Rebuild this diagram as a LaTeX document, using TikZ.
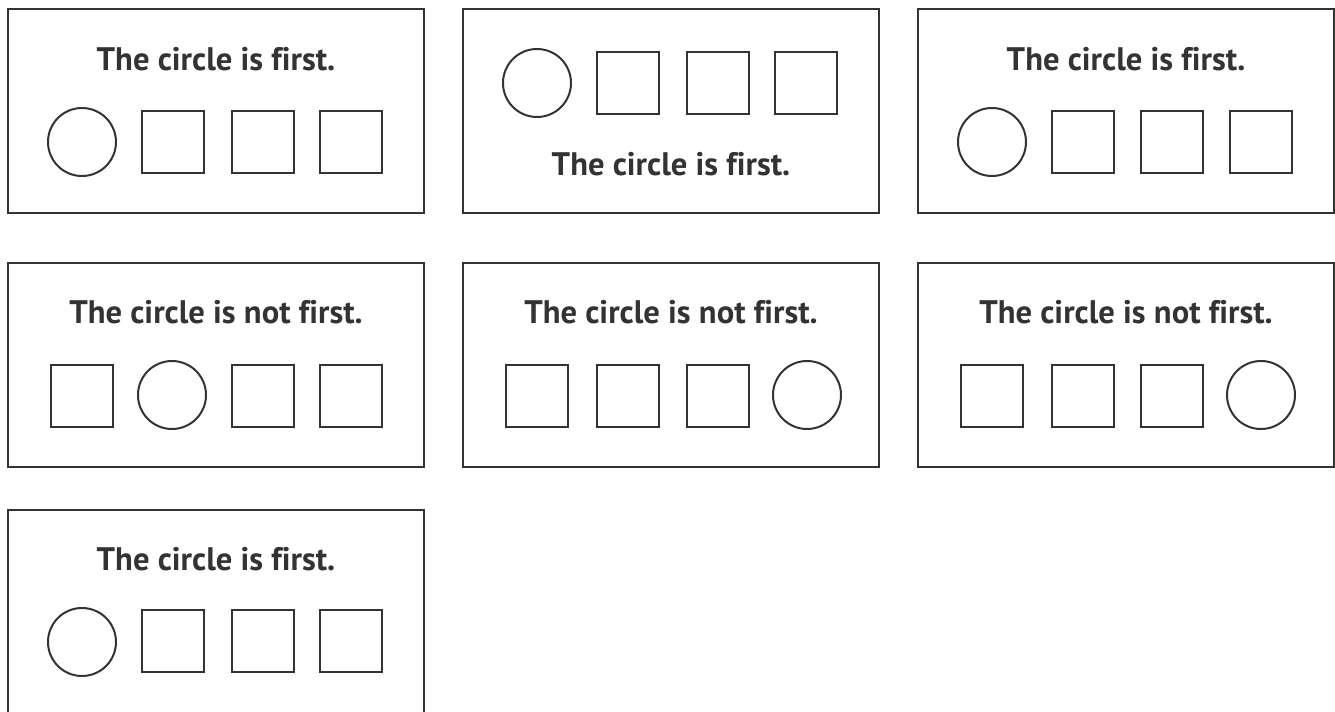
\documentclass[tikz,border=0pt]{standalone}
\usepackage{fontspec}
\setmainfont{PT Sans}[Ligatures=NoCommon]
\usepackage{tikz}
\definecolor{inkGrey}{RGB}{51, 51, 51}

\begin{document}
\begin{tikzpicture}[
  x=0.5pt, y=-0.5pt,
  card/.style={rectangle, draw=inkGrey, line width=1pt, minimum width=208pt,
               minimum height=102pt, inner sep=0pt, outer sep=0pt},
  sq/.style={rectangle, draw=inkGrey, line width=1pt, minimum size=31pt, inner sep=0pt},
  circ/.style={circle, draw=inkGrey, line width=1pt, minimum size=34pt, inner sep=0pt},
  caption/.style={anchor=base, text=inkGrey, inner sep=0pt,
                  font=\fontsize{16.3}{19}\selectfont\bfseries}
]
  \useasboundingbox (0,0) rectangle (1335,712);

  % Row 1
  \node[card] (card1) at (216,111) {};
  \node[caption] (text1) at (216,70) {The circle is first.};
  \node[circ] (c1a) at (82,142) {};
  \node[sq]   (c1b) at (173,142) {};
  \node[sq]   (c1c) at (263,142) {};
  \node[sq]   (c1d) at (351,142) {};

  \node[card] (card2) at (671,111) {};
  \node[circ] (c2a) at (537,83) {};
  \node[sq]   (c2b) at (628,83) {};
  \node[sq]   (c2c) at (718,83) {};
  \node[sq]   (c2d) at (806,83) {};
  \node[caption] (text2) at (671,175) {The circle is first.};

  \node[card] (card3) at (1126,111) {};
  \node[caption] (text3) at (1126,70) {The circle is first.};
  \node[circ] (c3a) at (992,142) {};
  \node[sq]   (c3b) at (1083,142) {};
  \node[sq]   (c3c) at (1172,142) {};
  \node[sq]   (c3d) at (1261,142) {};

  % Row 2
  \node[card] (card4) at (216,365) {};
  \node[caption] (text4) at (216,323) {The circle is not first.};
  \node[sq]   (c4a) at (82,396) {};
  \node[circ] (c4b) at (172,395) {};
  \node[sq]   (c4c) at (263,396) {};
  \node[sq]   (c4d) at (351,396) {};

  \node[card] (card5) at (671,365) {};
  \node[caption] (text5) at (671,323) {The circle is not first.};
  \node[sq]   (c5a) at (537,396) {};
  \node[sq]   (c5b) at (628,396) {};
  \node[sq]   (c5c) at (718,396) {};
  \node[circ] (c5d) at (807,395) {};

  \node[card] (card6) at (1126,365) {};
  \node[caption] (text6) at (1126,323) {The circle is not first.};
  \node[sq]   (c6a) at (992,396) {};
  \node[sq]   (c6b) at (1083,396) {};
  \node[sq]   (c6c) at (1172,396) {};
  \node[circ] (c6d) at (1261,395) {};

  % Row 3
  \node[card] (card7) at (216,612) {};
  \node[caption] (text7) at (216,570) {The circle is first.};
  \node[circ] (c7a) at (82,642) {};
  \node[sq]   (c7b) at (173,641) {};
  \node[sq]   (c7c) at (263,641) {};
  \node[sq]   (c7d) at (351,641) {};
\end{tikzpicture}
\end{document}
